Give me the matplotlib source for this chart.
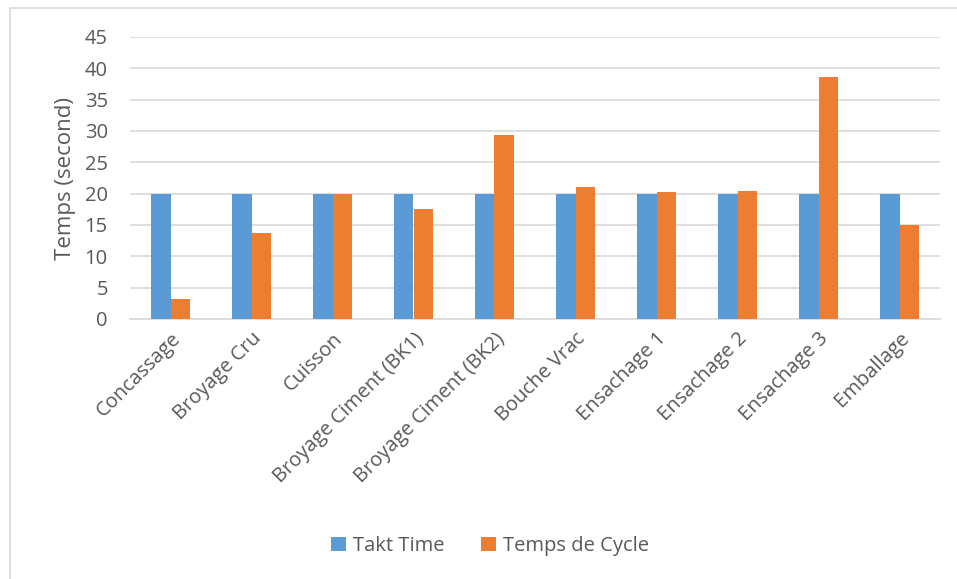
import numpy as np
from matplotlib import pyplot as plt
from matplotlib.patches import Rectangle

categories = ["Concassage", "Broyage Cru", "Cuisson", "Broyage Ciment (BK1)",
              "Broyage Ciment (BK2)", "Bouche Vrac", "Ensachage 1", "Ensachage 2",
              "Ensachage 3", "Emballage"]
takt_time = [20, 20, 20, 20, 20, 20, 20, 20, 20, 20]
temps_cycle = [3.2, 13.8, 20.0, 17.5, 29.4, 21.0, 20.25, 20.35, 38.6, 15.0]
y_ticks = [0, 5, 10, 15, 20, 25, 30, 35, 40, 45]


def main() -> None:
    plt.rcParams["font.family"] = ["Open Sans", "DejaVu Sans"]
    text_color = "#595959"
    blue = "#5b9bd5"
    orange = "#ed7d31"

    fig = plt.figure(figsize=(9.57, 5.79), dpi=100)
    ax = fig.add_axes([130 / 957, 1 - 319 / 579, 810 / 957, 282 / 579])

    x = np.arange(len(categories))
    w = 0.235
    ax.bar(x - w / 2, takt_time, w, color=blue, label="Takt Time", zorder=3)
    ax.bar(x + w / 2, temps_cycle, w, color=orange, label="Temps de Cycle", zorder=3)

    ax.set_xlim(-0.5, len(categories) - 0.5)
    ax.set_ylim(0, 45)
    ax.set_yticks(y_ticks)
    ax.yaxis.grid(True, color="#d9d9d9", linewidth=1.2, zorder=0)
    ax.set_axisbelow(True)
    for side in ["top", "right", "left"]:
        ax.spines[side].set_visible(False)
    ax.spines["bottom"].set_color("#d9d9d9")
    ax.spines["bottom"].set_linewidth(1.2)

    ax.set_xticks(x)
    ax.set_xticklabels(categories, rotation=45, ha="right", rotation_mode="anchor",
                       fontsize=14.5, color=text_color)
    ax.tick_params(axis="x", length=0, pad=7)
    ax.tick_params(axis="y", length=0, pad=16, labelsize=14.5, labelcolor=text_color)
    ax.set_ylabel("Temps (second)", fontsize=16, color=text_color, labelpad=6)

    ax.legend(loc="center", bbox_to_anchor=(490 / 957, 1 - 546 / 579),
              bbox_transform=fig.transFigure, ncol=2, frameon=False,
              fontsize=14.5, labelcolor=text_color, handlelength=0.75,
              handleheight=0.75, columnspacing=1.8, handletextpad=0.35)

    fig.patches.append(Rectangle((10 / 957, -0.1), 1.1, 1 - 8 / 579 + 0.1,
                                 transform=fig.transFigure, fill=False,
                                 edgecolor="#d9d9d9", linewidth=1.2))

    fig.savefig("out.png", dpi=100)


if __name__ == "__main__":
    main()
